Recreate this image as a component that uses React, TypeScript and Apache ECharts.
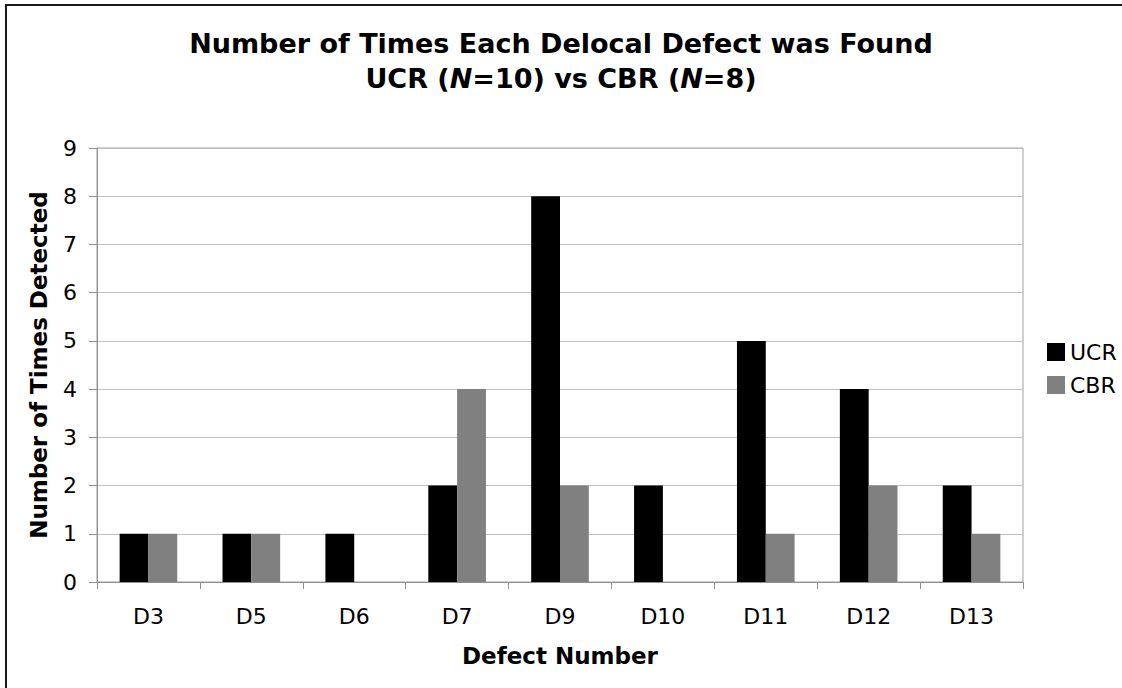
import React, { useEffect, useRef } from "react";
import * as echarts from "echarts";

// Defect categories and how often each group detected them
const defects = ["D3", "D5", "D6", "D7", "D9", "D10", "D11", "D12", "D13"];
const ucrCounts = [1, 1, 1, 2, 8, 2, 5, 4, 2];
const cbrCounts = [1, 1, 0, 4, 2, 0, 1, 2, 1];
const yTicks = { min: 0, max: 9, interval: 1 };

const FONT = "DejaVu Sans";

export default function App() {
  const ref = useRef<HTMLDivElement>(null);

  useEffect(() => {
    if (!ref.current) return;
    const chart = echarts.init(ref.current, undefined, { renderer: "svg" });
    chart.setOption({
      animation: false,
      backgroundColor: "#ffffff",
      title: {
        text: "Number of Times Each Delocal Defect was Found\nUCR ({i|N}=10) vs CBR ({i|N}=8)",
        left: "center",
        top: 21,
        textStyle: {
          fontFamily: FONT,
          fontWeight: "bold",
          fontSize: 27,
          lineHeight: 35,
          color: "#000",
          rich: {
            i: {
              fontFamily: FONT,
              fontWeight: "bold",
              fontStyle: "italic",
              fontSize: 27,
              lineHeight: 35,
              color: "#000",
            },
          },
        },
      },
      legend: {
        orient: "vertical",
        left: 1042,
        top: 336,
        itemWidth: 18,
        itemHeight: 18,
        itemGap: 11,
        icon: "rect",
        textStyle: { fontFamily: FONT, fontSize: 22, color: "#000" },
        data: ["UCR", "CBR"],
      },
      grid: {
        left: 97,
        right: 99,
        top: 148,
        bottom: 106,
        show: true,
        borderColor: "#a0a0a0",
        borderWidth: 1,
      },
      xAxis: {
        type: "category",
        data: defects,
        name: "Defect Number",
        nameLocation: "middle",
        nameGap: 62,
        nameTextStyle: {
          fontFamily: FONT,
          fontWeight: "bold",
          fontSize: 23,
          color: "#000",
        },
        axisLine: { lineStyle: { color: "#909090", width: 1 } },
        axisTick: { show: true, length: 7, lineStyle: { color: "#909090" } },
        axisLabel: {
          fontFamily: FONT,
          fontSize: 22,
          color: "#000",
          margin: 23,
        },
      },
      yAxis: {
        type: "value",
        min: yTicks.min,
        max: yTicks.max,
        interval: yTicks.interval,
        name: "Number of Times Detected",
        nameLocation: "middle",
        nameGap: 47,
        nameTextStyle: {
          fontFamily: FONT,
          fontWeight: "bold",
          fontSize: 23,
          color: "#000",
        },
        axisLine: { show: true, lineStyle: { color: "#909090", width: 1 } },
        axisTick: { show: true, length: 8, lineStyle: { color: "#909090" } },
        axisLabel: {
          fontFamily: FONT,
          fontSize: 22,
          color: "#000",
          margin: 20,
        },
        splitLine: { lineStyle: { color: "#c0c0c0", width: 1 } },
      },
      series: [
        {
          name: "UCR",
          type: "bar",
          data: ucrCounts,
          barGap: "0%",
          barCategoryGap: "44%",
          itemStyle: { color: "#000000" },
        },
        {
          name: "CBR",
          type: "bar",
          data: cbrCounts,
          barGap: "0%",
          barCategoryGap: "44%",
          itemStyle: { color: "#808080" },
        },
      ],
      graphic: [
        {
          type: "line",
          shape: { x1: 6, y1: 4, x2: 6, y2: 688 },
          style: { stroke: "#1a1a1a", lineWidth: 2 },
        },
        {
          type: "line",
          shape: { x1: 5, y1: 5, x2: 1122, y2: 5 },
          style: { stroke: "#1a1a1a", lineWidth: 2 },
        },
      ],
    });
    return () => chart.dispose();
  }, []);

  return (
    <div
      ref={ref}
      style={{ position: "fixed", left: 0, top: 0, width: 1122, height: 688 }}
    />
  );
}
